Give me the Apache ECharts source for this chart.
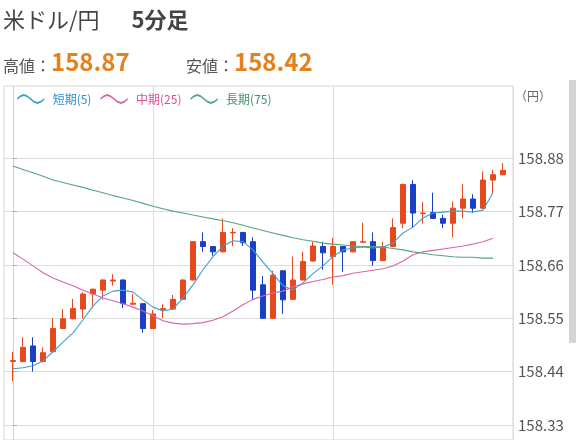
<!DOCTYPE html>
<html>
<head>
<meta charset="utf-8">
<script src="https://cdn.jsdelivr.net/npm/echarts@6/dist/echarts.min.js"></script>
<style>html,body{margin:0;padding:0;background:#fff}#c{width:576px;height:440px}</style>
</head>
<body>
<div id="c"></div>
<script>
// ---- data ----
const titleMain = '米ドル/円';
const titleSub = '5分足';
const highText = '158.87';
const lowText = '158.42';
const unitText = '（円）';
const legendNames = ['短期(5)', '中期(25)', '長期(75)'];
const yTicks = [158.33, 158.44, 158.55, 158.66, 158.77, 158.88];
const xGridIdx = [14, 32, 50];

const opens  = [158.461,158.461,158.493,158.461,158.481,158.529,158.549,158.569,158.600,158.608,158.627,158.629,158.579,158.580,158.529,158.568,158.569,158.589,158.629,158.708,158.698,158.687,158.726,158.727,158.708,158.619,158.550,158.648,158.589,158.629,158.668,158.698,158.677,158.698,158.687,158.707,158.708,158.669,158.698,158.746,158.826,158.766,158.768,158.756,158.746,158.777,158.796,158.777,158.835,158.846];
const closes = [158.463,158.490,158.461,158.479,158.529,158.549,158.570,158.600,158.610,158.629,158.629,158.580,158.581,158.529,158.559,158.570,158.589,158.629,158.708,158.698,158.687,158.727,158.727,158.706,158.608,158.550,158.639,158.588,158.629,158.667,158.699,158.685,158.698,158.687,158.708,158.708,158.669,158.697,158.737,158.826,158.767,158.767,158.756,158.746,158.777,158.796,158.777,158.835,158.846,158.855];
const lows   = [158.420,158.459,158.440,158.459,158.480,158.528,158.548,158.550,158.571,158.588,158.617,158.571,158.578,158.520,158.528,158.550,158.568,158.588,158.628,158.687,158.679,158.686,158.699,158.699,158.588,158.549,158.549,158.559,158.588,158.628,158.667,158.650,158.619,158.646,158.686,158.706,158.658,158.668,158.697,158.736,158.736,158.745,158.755,158.736,158.717,158.756,158.767,158.776,158.808,158.845];
const highs  = [158.481,158.511,158.511,158.490,158.550,158.569,158.590,158.604,158.611,158.630,158.641,158.630,158.600,158.581,158.567,158.579,158.598,158.630,158.709,158.727,158.699,158.756,158.736,158.728,158.717,158.637,158.648,158.649,158.677,158.687,158.708,158.708,158.716,158.699,158.709,158.747,158.727,158.708,158.756,158.828,158.835,158.790,158.809,158.763,158.791,158.827,158.806,158.853,158.856,158.870];

const maShort = [158.446,158.448,158.452,158.462,158.481,158.501,158.520,158.547,158.575,158.596,158.606,158.608,158.604,158.588,158.573,158.565,158.569,158.592,158.619,158.650,158.677,158.699,158.710,158.708,158.691,158.666,158.642,158.617,158.608,158.623,158.642,158.658,158.677,158.691,158.695,158.697,158.695,158.697,158.705,158.726,158.738,158.757,158.767,158.769,158.771,158.771,158.769,158.773,158.809];
const maMid = [158.685,158.672,158.658,158.644,158.633,158.625,158.617,158.608,158.600,158.592,158.586,158.580,158.573,158.565,158.555,158.545,158.540,158.538,158.539,158.541,158.546,158.553,158.565,158.578,158.589,158.596,158.602,158.606,158.615,158.621,158.626,158.630,158.635,158.638,158.643,158.646,158.649,158.652,158.658,158.668,158.681,158.687,158.690,158.693,158.696,158.699,158.703,158.708,158.715];
const maLong = [158.864,158.857,158.850,158.843,158.835,158.830,158.825,158.820,158.814,158.809,158.803,158.798,158.793,158.787,158.781,158.776,158.771,158.767,158.763,158.759,158.755,158.751,158.747,158.742,158.736,158.731,158.726,158.721,158.716,158.712,158.709,158.705,158.703,158.701,158.699,158.698,158.698,158.697,158.694,158.691,158.687,158.684,158.681,158.679,158.677,158.676,158.676,158.674,158.674];

// ---- chart ----
const FONT = '"Noto Sans CJK JP","Noto Sans",sans-serif';
const UP = '#e54a1e', DOWN = '#1b3fc4';
const C_SHORT = '#3f9fd0', C_MID = '#d865ad', C_LONG = '#55a67c';
const ORANGE = '#e5801e';
const waveIcon = 'path://M0,4.1 L3,1.6 L6,0.6 L9,1.6 L12,4.1 L15,6.6 L18,7.6 L21,6.6 L24,4.1 L24,5.9 L21,8.4 L18,9.4 L15,8.4 L12,5.9 L9,3.4 L6,2.4 L3,3.4 L0,5.9 Z';

const candleData = opens.map((o, i) => [i, o, closes[i], lows[i], highs[i]]);
const toXY = arr => arr.map((v, i) => [i, v]);

const chart = echarts.init(document.getElementById('c'), null, {renderer: 'canvas'});
chart.setOption({
  animation: false,
  textStyle: {fontFamily: FONT},
  grid: {left: 4, right: 63, top: 86, bottom: 0, show: true, borderColor: '#d6d6d6', borderWidth: 1},
  xAxis: {
    type: 'value', min: -0.9, max: 50,
    axisLine: {show: false},
    axisTick: {show: false, customValues: xGridIdx},
    axisLabel: {show: false, customValues: xGridIdx},
    splitLine: {show: true, lineStyle: {color: '#dcdcdc', width: 1}}
  },
  yAxis: {
    type: 'value', position: 'right', min: 158.299, max: 159.029,
    axisLine: {show: true, lineStyle: {color: '#d0d0d0'}},
    axisTick: {show: true, length: 4, customValues: yTicks, lineStyle: {color: '#aaa'}},
    axisLabel: {customValues: yTicks, margin: 5, color: '#555', fontSize: 15, fontFamily: FONT, formatter: v => v.toFixed(2)},
    splitLine: {show: true, lineStyle: {color: '#dcdcdc', width: 1}}
  },
  legend: {
    left: 12, top: 88, itemWidth: 34, itemHeight: 10, itemGap: 9,
    icon: waveIcon,
    textStyle: {fontSize: 12, fontFamily: FONT},
    data: [
      {name: legendNames[0], textStyle: {color: '#2a8fd6'}},
      {name: legendNames[1], textStyle: {color: '#df4d9c'}},
      {name: legendNames[2], textStyle: {color: '#3d9467'}}
    ]
  },
  graphic: [
    {type: 'text', left: 3, top: 9, style: {
      text: '{a|' + titleMain + '}{a|　}{b|' + titleSub + '}',
      rich: {a: {fontSize: 22, fill: '#444', fontFamily: FONT}, b: {fontSize: 22, fill: '#444', fontWeight: 'bold', fontFamily: FONT, padding: [0, 0, 0, 10]}}
    }},
    {type: 'text', left: 3, top: 50, style: {
      text: '{l|高値：}{v|' + highText + '}',
      rich: {l: {fontSize: 16, fill: '#555', fontFamily: FONT, verticalAlign: 'bottom'}, v: {fontSize: 24, fill: ORANGE, fontWeight: 'bold', fontFamily: FONT, verticalAlign: 'bottom'}}
    }},
    {type: 'text', left: 186, top: 50, style: {
      text: '{l|安値：}{v|' + lowText + '}',
      rich: {l: {fontSize: 16, fill: '#555', fontFamily: FONT, verticalAlign: 'bottom'}, v: {fontSize: 24, fill: ORANGE, fontWeight: 'bold', fontFamily: FONT, verticalAlign: 'bottom'}}
    }},
    {type: 'text', left: 515, top: 90, style: {text: unitText, fontSize: 12, fill: '#666', fontFamily: FONT}},
    {type: 'rect', shape: {x: 569, y: 80, width: 7, height: 263}, style: {fill: '#d4d4d4'}}
  ],
  series: [
    {
      type: 'candlestick', name: 'USDJPY', data: candleData,
      encode: {x: 0, y: [1, 2, 3, 4]},
      barWidth: 6,
      itemStyle: {color: UP, color0: DOWN, borderColor: UP, borderColor0: DOWN, borderWidth: 1}
    },
    {type: 'line', name: legendNames[0], data: toXY(maShort), symbol: 'none', color: C_SHORT, lineStyle: {width: 1.1, color: C_SHORT}, z: 3},
    {type: 'line', name: legendNames[1], data: toXY(maMid), symbol: 'none', color: C_MID, lineStyle: {width: 1.1, color: C_MID}, z: 3},
    {type: 'line', name: legendNames[2], data: toXY(maLong), symbol: 'none', color: C_LONG, lineStyle: {width: 1.1, color: C_LONG}, z: 3}
  ]
});
</script>
</body>
</html>
